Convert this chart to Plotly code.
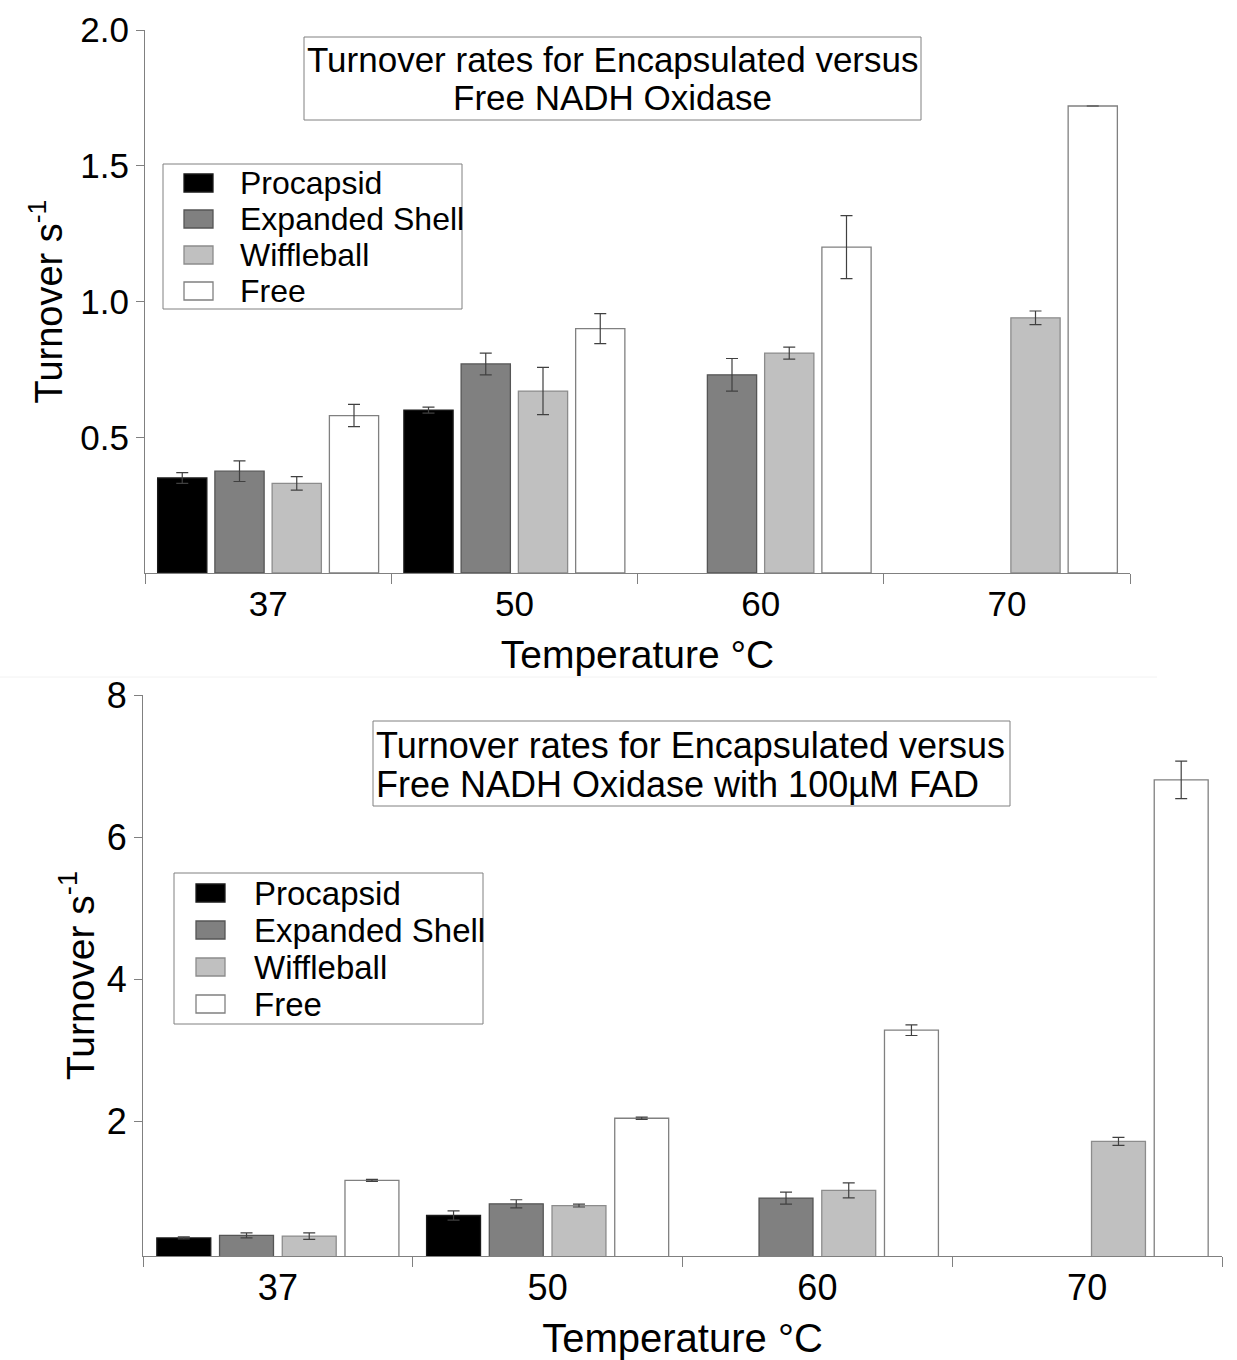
import plotly.graph_objects as go

categories = ['37', '50', '60', '70']
series_names = ['Procapsid', 'Expanded Shell', 'Wiffleball', 'Free']

# Top chart: Free NADH Oxidase
top_procapsid = [0.35, 0.60, None, None]
top_procapsid_err = [0.02, 0.011, None, None]
top_expanded = [0.375, 0.77, 0.73, None]
top_expanded_err = [0.038, 0.04, 0.06, None]
top_wiffle = [0.33, 0.67, 0.81, 0.94]
top_wiffle_err = [0.025, 0.087, 0.022, 0.025]
top_free = [0.58, 0.90, 1.20, 1.72]
top_free_err = [0.041, 0.055, 0.116, None]

# Bottom chart: with 100 uM FAD
bot_procapsid = [0.355, 0.67, None, None]
bot_procapsid_err = [0.015, 0.066, None, None]
bot_expanded = [0.39, 0.835, 0.915, None]
bot_expanded_err = [0.035, 0.057, 0.085, None]
bot_wiffle = [0.38, 0.81, 1.025, 1.715]
bot_wiffle_err = [0.047, 0.02, 0.106, 0.056]
bot_free = [1.165, 2.04, 3.28, 6.805]
bot_free_err = [0.015, 0.015, 0.075, 0.265]

top_yticks = [0.5, 1.0, 1.5, 2.0]
bot_yticks = [2, 4, 6, 8]

fills = ['#000000', '#808080', '#c0c0c0', '#ffffff']
edges = ['#1a1a1a', '#555555', '#8c8c8c', '#808080']

FONT = 'Liberation Sans, Arial, sans-serif'
W, H = 1237, 1360

def px(x):
    return x / W

def py(y):
    return 1 - y / H

fig = go.Figure()

top_vals = [top_procapsid, top_expanded, top_wiffle, top_free]
top_errs = [top_procapsid_err, top_expanded_err, top_wiffle_err, top_free_err]
bot_vals = [bot_procapsid, bot_expanded, bot_wiffle, bot_free]
bot_errs = [bot_procapsid_err, bot_expanded_err, bot_wiffle_err, bot_free_err]

for i, name in enumerate(series_names):
    fig.add_trace(go.Bar(
        x=categories, y=top_vals[i], name=name, xaxis='x', yaxis='y',
        marker=dict(color=fills[i], line=dict(color=edges[i], width=1.3)),
        error_y=dict(type='data', array=top_errs[i], color='#404040', thickness=1.2, width=6),
        showlegend=False))
for i, name in enumerate(series_names):
    fig.add_trace(go.Bar(
        x=categories, y=bot_vals[i], name=name, xaxis='x2', yaxis='y2',
        marker=dict(color=fills[i], line=dict(color=edges[i], width=1.3)),
        error_y=dict(type='data', array=bot_errs[i], color='#404040', thickness=1.2, width=6),
        showlegend=False))

axis_common = dict(showline=True, linecolor='#808080', linewidth=1, ticks='outside',
                   tickcolor='#808080', showgrid=False, zeroline=False, automargin=False)

fig.update_layout(
    width=W, height=H, margin=dict(l=0, r=0, t=0, b=0),
    paper_bgcolor='white', plot_bgcolor='white',
    font=dict(family=FONT, color='black'),
    barmode='group', bargap=0.07, bargroupgap=0.14,
    xaxis=dict(domain=[px(145), px(1130)], anchor='y', type='category',
               tickson='boundaries', ticklen=10, tickfont=dict(size=35),
               title=dict(text='Temperature °C', font=dict(size=39), standoff=18),
               **axis_common),
    yaxis=dict(domain=[py(573), py(30)], anchor='x', range=[0, 2.0],
               tickvals=top_yticks, ticktext=[f'{v:.1f}' for v in top_yticks],
               ticklen=8, tickfont=dict(size=35),
               title=dict(text='Turnover s<sup>-1</sup>', font=dict(size=38), standoff=6),
               **axis_common),
    xaxis2=dict(domain=[px(143), px(1222)], anchor='y2', type='category',
                tickson='boundaries', ticklen=10, tickfont=dict(size=36),
                title=dict(text='Temperature °C', font=dict(size=40), standoff=20),
                **axis_common),
    yaxis2=dict(domain=[py(1256), py(695)], anchor='x2', range=[0.1, 8],
                tickvals=bot_yticks, ticktext=[str(v) for v in bot_yticks],
                ticklen=8, tickfont=dict(size=36),
                title=dict(text='Turnover s<sup>-1</sup>', font=dict(size=39), standoff=0),
                **axis_common),
    showlegend=False,
)

shapes = [
    # title boxes
    dict(type='rect', xref='paper', yref='paper', x0=px(304), x1=px(921),
         y0=py(120), y1=py(37), line=dict(color='#808080', width=1), fillcolor='white', layer='below'),
    dict(type='rect', xref='paper', yref='paper', x0=px(373), x1=px(1010),
         y0=py(806), y1=py(721), line=dict(color='#808080', width=1), fillcolor='white', layer='below'),
    # faint separator between panels
    dict(type='line', xref='paper', yref='paper', x0=0, x1=px(1157),
         y0=py(677), y1=py(677), line=dict(color='#f2f2f2', width=1)),
    # legend boxes
    dict(type='rect', xref='paper', yref='paper', x0=px(163), x1=px(462),
         y0=py(309), y1=py(164), line=dict(color='#808080', width=1), fillcolor='white'),
    dict(type='rect', xref='paper', yref='paper', x0=px(174), x1=px(483),
         y0=py(1024), y1=py(873), line=dict(color='#808080', width=1), fillcolor='white'),
]
annotations = [
    dict(text='Turnover rates for Encapsulated versus', x=px(612.5), y=py(60),
         xref='paper', yref='paper', xanchor='center', yanchor='middle', showarrow=False,
         font=dict(size=35)),
    dict(text='Free NADH Oxidase', x=px(612.5), y=py(98),
         xref='paper', yref='paper', xanchor='center', yanchor='middle', showarrow=False,
         font=dict(size=35)),
    dict(text='Turnover rates for Encapsulated versus', x=px(374), y=py(745),
         xref='paper', yref='paper', xanchor='left', yanchor='middle', showarrow=False,
         font=dict(size=36)),
    dict(text='Free NADH Oxidase with 100µM FAD', x=px(374), y=py(785),
         xref='paper', yref='paper', xanchor='left', yanchor='middle', showarrow=False,
         font=dict(size=36)),
]

# legend entries (symbol + label) for both panels
top_leg_rows = [183, 219, 255, 291]
bot_leg_rows = [893, 930, 967, 1004]
for i, name in enumerate(series_names):
    yc = top_leg_rows[i]
    shapes.append(dict(type='rect', xref='paper', yref='paper', x0=px(184), x1=px(213),
                       y0=py(yc + 9), y1=py(yc - 9), fillcolor=fills[i],
                       line=dict(color=edges[i], width=1.3)))
    annotations.append(dict(text=name, x=px(238), y=py(yc), xref='paper', yref='paper',
                            xanchor='left', yanchor='middle', showarrow=False, font=dict(size=32)))
    yc = bot_leg_rows[i]
    shapes.append(dict(type='rect', xref='paper', yref='paper', x0=px(196), x1=px(225),
                       y0=py(yc + 9), y1=py(yc - 9), fillcolor=fills[i],
                       line=dict(color=edges[i], width=1.3)))
    annotations.append(dict(text=name, x=px(252), y=py(yc), xref='paper', yref='paper',
                            xanchor='left', yanchor='middle', showarrow=False, font=dict(size=33)))

fig.update_layout(shapes=shapes, annotations=annotations)

fig.write_html('out.html', config={'displayModeBar': False},
               post_script="document.body.style.margin='0px';document.body.style.padding='0px';")
